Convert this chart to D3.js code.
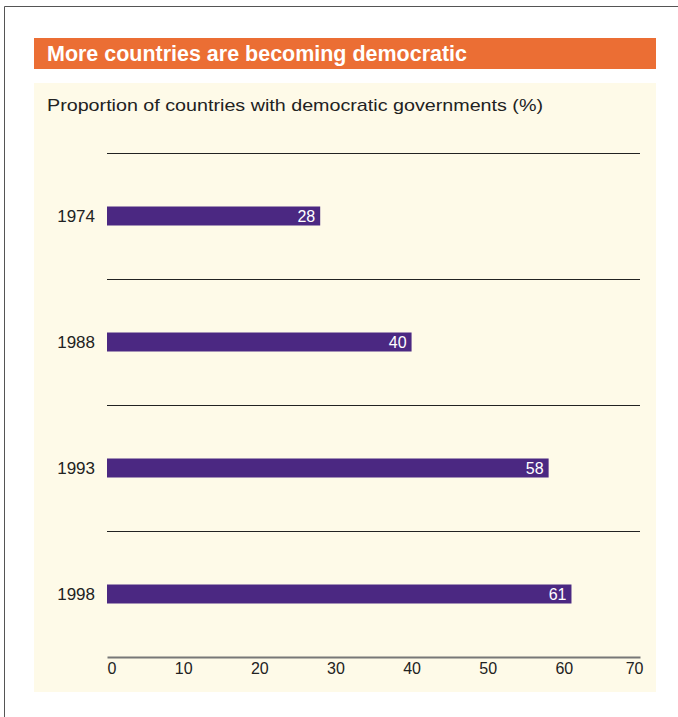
<!DOCTYPE html>
<html>
<head>
  <meta charset=utf-8 />
  <title>More countries are becoming democratic</title>
  <style>
    body { margin:0; background:#fff; }
    text { font-family:"Liberation Sans", Arial, sans-serif; }
    .title { fill:#FFF; font-weight:bold; font-size:22px; }
    .sub { fill:#222; font-size:17px; }
    .year { fill:#222; font-size:17px; }
    .val { fill:#FFF; font-size:16px; }
    .tick text { fill:#222; font-size:16px; }
  </style>
</head>
<body>
  <div id="container"></div>
  <script src="https://d3js.org/d3.v7.min.js"></script>
  <script>

// data
var years = ["1974", "1988", "1993", "1998"];
var shares = [28, 40, 58, 61];
var ticks = [0, 10, 20, 30, 40, 50, 60, 70];

var w = 678, h = 717;

var svg = d3.select("#container").append("svg")
  .attr("width", w)
  .attr("height", h);

// frame lines top and left
svg.append("path")
  .attr("d", "M4.5,717V6.5H678")
  .attr("fill", "none")
  .attr("stroke", "#555")
  .attr("stroke-width", 1);

// orange title bar
svg.append("rect").attr("x", 34).attr("y", 38).attr("width", 622).attr("height", 31)
  .attr("fill", "#EB6E34");
svg.append("text").attr("class", "title").attr("x", 47).attr("y", 61)
  .attr("textLength", 420).attr("lengthAdjust", "spacingAndGlyphs")
  .text("More countries are becoming democratic");

// cream panel
svg.append("rect").attr("x", 34).attr("y", 83).attr("width", 622).attr("height", 609)
  .attr("fill", "#FEFAE8");
svg.append("text").attr("class", "sub").attr("x", 47).attr("y", 111)
  .attr("textLength", 496).attr("lengthAdjust", "spacingAndGlyphs")
  .text("Proportion of countries with democratic governments (%)");

var x = d3.scaleLinear().domain([0, 70]).range([107, 640]);
var y = d3.scaleBand().domain(years).range([153, 657]);
var barH = 19;

// separator lines between rows
var seps = years.map(function(d) { return y(d); });
svg.selectAll("line.sep").data(seps).enter().append("line")
  .attr("class", "sep")
  .attr("x1", x(0)).attr("x2", x(70))
  .attr("y1", function(d) { return Math.round(d) + 0.5; })
  .attr("y2", function(d) { return Math.round(d) + 0.5; })
  .attr("stroke", "#222").attr("stroke-width", 1);

// bars
var rows = years.map(function(d, i) { return {year: d, v: shares[i]}; });
var g = svg.append("g");
g.selectAll("rect").data(rows).enter().append("rect")
  .attr("x", x(0))
  .attr("y", function(d) { return y(d.year) + y.bandwidth() / 2 - barH / 2; })
  .attr("width", function(d) { return x(d.v) - x(0); })
  .attr("height", barH)
  .attr("fill", "#4B2882");

g.selectAll("text.val").data(rows).enter().append("text")
  .attr("class", "val")
  .attr("x", function(d) { return x(d.v) - 5; })
  .attr("y", function(d) { return y(d.year) + y.bandwidth() / 2 + 6; })
  .attr("text-anchor", "end")
  .text(function(d) { return d.v; });

g.selectAll("text.year").data(rows).enter().append("text")
  .attr("class", "year")
  .attr("x", 95)
  .attr("y", function(d) { return y(d.year) + y.bandwidth() / 2 + 6; })
  .attr("text-anchor", "end")
  .text(function(d) { return d.year; });

// x axis
var axis = svg.append("g")
  .attr("transform", "translate(0,657)")
  .call(d3.axisBottom(x).tickValues(ticks).tickSize(0).tickPadding(6));
axis.select(".domain").attr("stroke", "#777").attr("stroke-width", 2);
axis.selectAll(".tick text")
  .attr("font-family", null).attr("font-size", null)
  .attr("text-anchor", function(d) { return d === 0 ? "start" : d === 70 ? "end" : "middle"; })
  .attr("dx", function(d) { return d === 70 ? 3 : 0; });
  </script>
</body>
</html>
